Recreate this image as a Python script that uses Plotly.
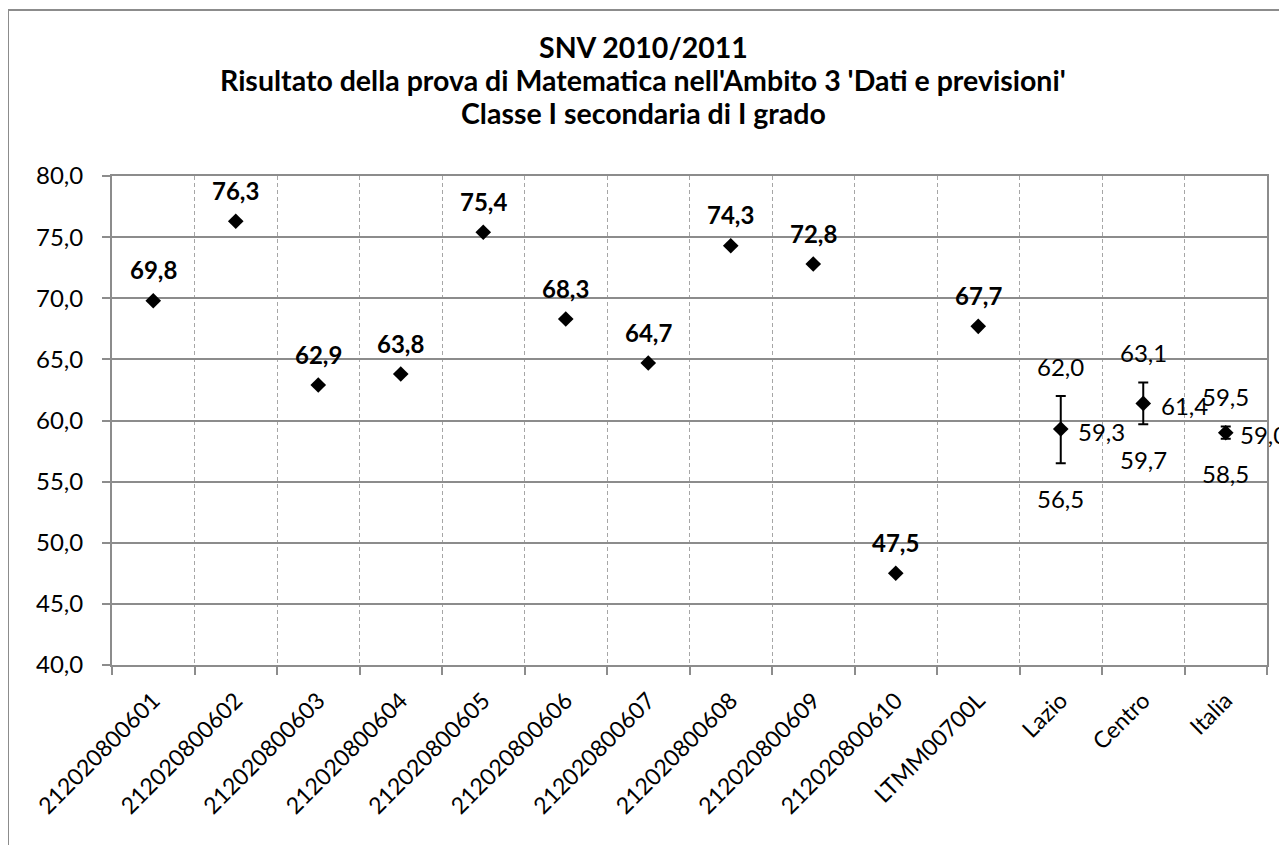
import plotly.graph_objects as go

categories = ["212020800601", "212020800602", "212020800603", "212020800604",
              "212020800605", "212020800606", "212020800607", "212020800608",
              "212020800609", "212020800610", "LTMM00700L", "Lazio", "Centro", "Italia"]
school_values = [69.8, 76.3, 62.9, 63.8, 75.4, 68.3, 64.7, 74.3, 72.8, 47.5, 67.7]
summary_names = ["Lazio", "Centro", "Italia"]
summary_mean = [59.3, 61.4, 59.0]
summary_high = [62.0, 63.1, 59.5]
summary_low = [56.5, 59.7, 58.5]
title_lines = ["SNV 2010/2011",
               "Risultato della prova di Matematica nell'Ambito 3 'Dati e previsioni'",
               "Classe I secondaria di I grado"]
y_ticks = [40, 45, 50, 55, 60, 65, 70, 75, 80]

def fmt(v):
    return f"{v:.1f}".replace(".", ",")

FONT = "Lato, Carlito, Calibri, sans-serif"
GRID = "#8c8c8c"
TXT = 24

# plot area in page pixels (page has an 8px body margin)
PL, PR, PT, PB = 112, 1267, 176, 665
PW, PH = PR - PL, PB - PT

def px_to_paper_x(px):
    return (px - PL) / PW

def py_to_paper_y(py):
    return (PB - py) / PH

fig = go.Figure()

fig.add_trace(go.Scatter(
    x=categories[:len(school_values)], y=school_values, mode="markers",
    marker=dict(symbol="diamond", size=12, color="black"),
    showlegend=False, hoverinfo="x+y"))

fig.add_trace(go.Scatter(
    x=summary_names, y=summary_mean, mode="markers",
    marker=dict(symbol="diamond", size=12, color="black"),
    error_y=dict(type="data", symmetric=False,
                 array=[h - m for h, m in zip(summary_high, summary_mean)],
                 arrayminus=[m - l for m, l in zip(summary_mean, summary_low)],
                 color="black", thickness=2, width=5),
    showlegend=False, hoverinfo="x+y"))

annotations = []
for i, v in enumerate(school_values):
    annotations.append(dict(x=i, y=v, xref="x", yref="y", text=fmt(v), showarrow=False, yshift=31,
                            font=dict(family=FONT, size=TXT, color="black", weight="bold")))
for name, m, h, l in zip(summary_names, summary_mean, summary_high, summary_low):
    i = categories.index(name)
    annotations.append(dict(x=i, y=h, xref="x", yref="y", text=fmt(h), showarrow=False, yshift=30,
                            font=dict(family=FONT, size=TXT, color="black")))
    annotations.append(dict(x=i, y=l, xref="x", yref="y", text=fmt(l), showarrow=False, yshift=-35,
                            font=dict(family=FONT, size=TXT, color="black")))
    annotations.append(dict(x=i, y=m, xref="x", yref="y", text=fmt(m), showarrow=False,
                            xshift=38 if name == "Italia" else 41, yshift=-2,
                            font=dict(family=FONT, size=TXT, color="black")))

for line, py in zip(title_lines, [47, 80, 113]):
    annotations.append(dict(x=px_to_paper_x(643), y=py_to_paper_y(py), xref="paper", yref="paper",
                            xanchor="center", yanchor="middle", text=line, showarrow=False,
                            font=dict(family=FONT, size=28.5, color="black", weight="bold")))

fig.update_layout(
    width=1287, height=845,
    margin=dict(l=PL - 8, r=1287 + 8 - PR, t=PT - 8, b=845 + 8 - PB),
    paper_bgcolor="white", plot_bgcolor="white",
    font=dict(family=FONT, size=TXT, color="black"),
    annotations=annotations,
    showlegend=False,
)

fig.update_xaxes(
    type="category", categoryorder="array", categoryarray=categories,
    range=[-0.5, len(categories) - 0.5],
    tickson="boundaries", ticks="outside", ticklen=8, tickcolor=GRID, tickwidth=2,
    showgrid=True, gridcolor="#a6a6a6", griddash="4px,3px", gridwidth=1,
    showline=True, linecolor=GRID, linewidth=2, mirror=True,
    tickangle=-45, tickfont=dict(family=FONT, size=23, color="black"),
    ticklabelstandoff=11,
)
fig.update_yaxes(
    range=[40, 80], tickvals=y_ticks,
    ticktext=[fmt(v) for v in y_ticks],
    ticks="outside", ticklen=8, tickcolor=GRID, tickwidth=2,
    showgrid=True, gridcolor=GRID, gridwidth=2,
    showline=True, linecolor=GRID, linewidth=2, mirror=True,
    tickfont=dict(family=FONT, size=TXT, color="black"),
    ticklabelstandoff=14, zeroline=False,
)

# outer chart border (partially outside the visible page)
fig.add_shape(type="rect", xref="paper", yref="paper",
              x0=px_to_paper_x(8), x1=1.2, y0=-0.5, y1=py_to_paper_y(10),
              line=dict(color=GRID, width=2), layer="below")

fig.write_html("out.html")
